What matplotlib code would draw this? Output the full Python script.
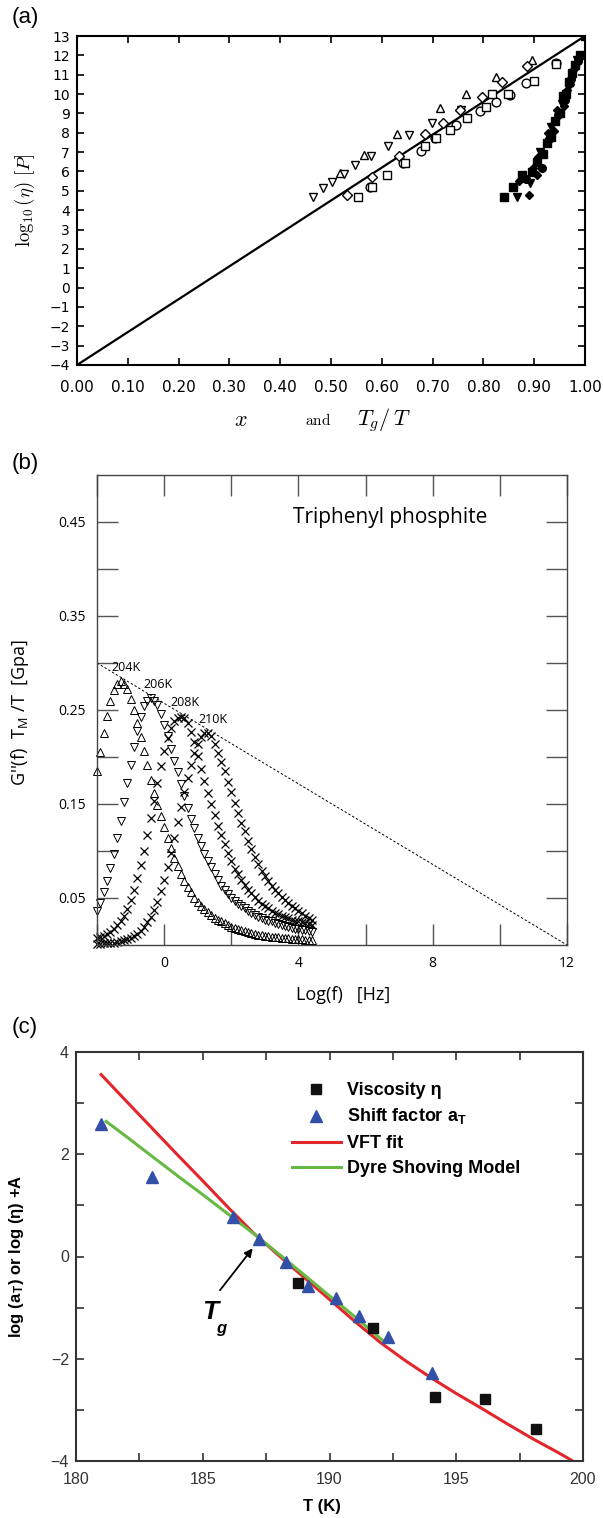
import matplotlib
matplotlib.use("Agg")
import matplotlib.pyplot as plt
from matplotlib.lines import Line2D
from matplotlib.ticker import MultipleLocator, FormatStrFormatter

W, H = 603, 1518
plt.rcParams["mathtext.fontset"] = "cm"

# ---------------- panel (a): log10(eta) vs x and Tg/T ----------------
fit_x = [0.0, 1.0]
fit_y = [-4.0, 13.0]

a_tri_up_x = [0.518, 0.564, 0.629, 0.715, 0.765, 0.824, 0.896]
a_tri_up_y = [5.9, 6.85, 7.94, 9.3, 10.0, 10.87, 11.76]
a_tri_dn_x = [0.465, 0.484, 0.501, 0.525, 0.547, 0.578, 0.613, 0.654, 0.698, 0.756]
a_tri_dn_y = [4.7, 5.13, 5.47, 5.85, 6.33, 6.8, 7.3, 7.9, 8.49, 9.2]
a_diam_x = [0.531, 0.58, 0.633, 0.685, 0.72, 0.754, 0.797, 0.836, 0.885]
a_diam_y = [4.78, 5.73, 6.8, 7.92, 8.52, 9.18, 9.86, 10.64, 11.45]
a_circ_x = [0.577, 0.642, 0.677, 0.705, 0.747, 0.793, 0.825, 0.852, 0.884, 0.942]
a_circ_y = [5.2, 6.45, 7.07, 7.71, 8.4, 9.12, 9.6, 9.95, 10.56, 11.59]
a_sq_x = [0.554, 0.58, 0.611, 0.646, 0.685, 0.707, 0.734, 0.767, 0.806, 0.816, 0.849, 0.9, 0.942]
a_sq_y = [4.66, 5.2, 5.82, 6.45, 7.31, 7.71, 8.14, 8.75, 9.35, 10.0, 9.98, 10.7, 11.54]

f_sq_x = [0.84, 0.858, 0.875, 0.895, 0.905, 0.918, 0.925, 0.933, 0.94, 0.95,
          0.957, 0.962, 0.969, 0.975, 0.98, 0.99, 1.0]
f_sq_y = [4.66, 5.2, 5.82, 5.95, 6.5, 6.9, 7.45, 7.8, 8.6, 9.0,
          9.9, 10.0, 10.6, 11.1, 11.5, 12.0, 13.0]
f_tri_x = [0.867, 0.892, 0.911, 0.934, 0.954, 0.974, 0.984]
f_tri_y = [4.66, 5.39, 7.0, 8.3, 9.5, 11.0, 11.76]
f_diam_x = [0.87, 0.889, 0.898, 0.905, 0.908, 0.928, 0.938, 0.944, 0.958, 0.964, 0.97, 0.978]
f_diam_y = [5.5, 4.78, 6.2, 5.82, 6.76, 7.97, 8.1, 9.18, 9.4, 10.2, 10.5, 11.3]
f_circ_x = [0.884, 0.915, 0.93, 0.947, 0.96, 0.972, 0.986]
f_circ_y = [5.6, 6.2, 7.7, 8.9, 9.7, 10.8, 11.7]

# ---------------- panel (b): G''(f) TM/T vs log f ----------------
log_f = [-2.0, -1.9, -1.8, -1.7, -1.6, -1.5, -1.4, -1.3, -1.2, -1.1,
         -1.0, -0.9, -0.8, -0.7, -0.6, -0.5, -0.4, -0.3, -0.2, -0.1,
         0.0, 0.1, 0.2, 0.3, 0.4, 0.5, 0.6, 0.7, 0.8, 0.9,
         1.0, 1.1, 1.2, 1.3, 1.4, 1.5, 1.6, 1.7, 1.8, 1.9,
         2.0, 2.1, 2.2, 2.3, 2.4, 2.5, 2.6, 2.7, 2.8, 2.9,
         3.0, 3.1, 3.2, 3.3, 3.4, 3.5, 3.6, 3.7, 3.8, 3.9,
         4.0, 4.1, 4.2, 4.3, 4.4]
g_204 = [0.185, 0.205, 0.225, 0.244, 0.260, 0.271, 0.278, 0.281, 0.278, 0.272,
         0.262, 0.250, 0.236, 0.221, 0.206, 0.191, 0.176, 0.162, 0.149, 0.137,
         0.125, 0.114, 0.103, 0.093, 0.084, 0.076, 0.068, 0.062, 0.056, 0.050,
         0.046, 0.042, 0.038, 0.035, 0.032, 0.029, 0.027, 0.025, 0.023, 0.021,
         0.019, 0.018, 0.017, 0.016, 0.015, 0.014, 0.013, 0.012, 0.011, 0.0105,
         0.010, 0.0095, 0.009, 0.0085, 0.008, 0.0077, 0.0074, 0.0071, 0.0068, 0.0065,
         0.0062, 0.006, 0.0058, 0.0056, 0.0054]
g_206 = [0.036, 0.045, 0.056, 0.068, 0.082, 0.097, 0.114, 0.132, 0.152, 0.172,
         0.192, 0.211, 0.228, 0.243, 0.254, 0.260, 0.263, 0.260, 0.255, 0.246,
         0.234, 0.222, 0.208, 0.196, 0.184, 0.171, 0.158, 0.146, 0.134, 0.124,
         0.114, 0.105, 0.097, 0.089, 0.083, 0.076, 0.069, 0.063, 0.058, 0.054,
         0.050, 0.047, 0.044, 0.041, 0.039, 0.036, 0.034, 0.032, 0.030, 0.029,
         0.027, 0.026, 0.025, 0.023, 0.022, 0.021, 0.020, 0.019, 0.018, 0.0175,
         0.017, 0.016, 0.0155, 0.015, 0.014]
g_208 = [0.007, 0.008, 0.010, 0.012, 0.014, 0.017, 0.021, 0.025, 0.031, 0.038,
         0.048, 0.059, 0.071, 0.085, 0.100, 0.117, 0.135, 0.153, 0.172, 0.190,
         0.206, 0.220, 0.231, 0.238, 0.242, 0.243, 0.241, 0.236, 0.227, 0.216,
         0.201, 0.187, 0.174, 0.162, 0.150, 0.138, 0.127, 0.117, 0.107, 0.098,
         0.089, 0.081, 0.075, 0.069, 0.064, 0.059, 0.055, 0.051, 0.047, 0.044,
         0.041, 0.039, 0.036, 0.034, 0.033, 0.031, 0.030, 0.029, 0.027, 0.026,
         0.025, 0.024, 0.023, 0.022, 0.021]
g_210 = [0.0012, 0.0014, 0.0016, 0.0019, 0.0022, 0.0026, 0.0032, 0.0039, 0.0048, 0.006,
         0.0075, 0.0095, 0.012, 0.015, 0.019, 0.024, 0.030, 0.037, 0.046, 0.057,
         0.069, 0.083, 0.098, 0.114, 0.131, 0.147, 0.163, 0.178, 0.192, 0.204,
         0.214, 0.221, 0.225, 0.226, 0.222, 0.214, 0.204, 0.195, 0.185, 0.173,
         0.163, 0.151, 0.140, 0.130, 0.121, 0.111, 0.102, 0.094, 0.086, 0.079,
         0.073, 0.068, 0.063, 0.059, 0.055, 0.051, 0.048, 0.045, 0.042, 0.039,
         0.036, 0.034, 0.031, 0.029, 0.027]
guide_x = [-2.0, 12.0]
guide_y = [0.30, 0.0]
temp_labels = ["204K", "206K", "208K", "210K"]
temp_label_x = [-1.14, -0.18, 0.61, 1.45]
temp_label_y = [0.295, 0.277, 0.258, 0.240]

# ---------------- panel (c): log aT / log eta vs T ----------------
visc_T = [188.75, 191.7, 194.15, 196.15, 198.15]
visc_log = [-0.51, -1.39, -2.75, -2.78, -3.38]
shift_T = [180.97, 182.99, 186.2, 187.2, 188.3, 189.16, 190.27, 191.18, 192.29, 194.05]
shift_log = [2.60, 1.55, 0.77, 0.35, -0.10, -0.57, -0.82, -1.17, -1.57, -2.28]
vft_T = [180.95, 182, 183, 184, 185, 186, 187, 188, 189, 190,
         191, 192, 193, 194, 195, 196, 197, 198, 199, 199.6]
vft_log = [3.58, 3.03, 2.51, 1.99, 1.48, 0.96, 0.46, 0.02, -0.41, -0.84,
           -1.27, -1.68, -2.04, -2.37, -2.68, -2.97, -3.27, -3.56, -3.83, -4.0]
dsm_T = [181.14, 182, 183, 184, 185, 186, 187, 188, 189, 190, 191, 192, 192.25]
dsm_log = [2.66, 2.34, 1.96, 1.58, 1.21, 0.83, 0.45, 0.05, -0.36, -0.77, -1.18, -1.60, -1.70]

RED = "#e3262b"
GREEN = "#68b944"
BLUE = "#3350a8"


def box(left, top, right, bottom):
    return [left / W, 1 - bottom / H, (right - left) / W, (bottom - top) / H]


fig = plt.figure(figsize=(W / 100, H / 100), dpi=100)

for lab, yy in [("(a)", 18), ("(b)", 463), ("(c)", 1027)]:
    fig.text(25 / W, 1 - yy / H, lab, ha="center", va="center", fontsize=16,
             family="Liberation Sans")

# ---- (a)
ax = fig.add_axes(box(77, 36, 585, 365))
ax.plot(fit_x, fit_y, color="black", lw=1.6)
op = dict(ls="none", mfc="white", mec="black", mew=1.0, ms=6.3)
ax.plot(a_tri_up_x, a_tri_up_y, marker="^", **op)
ax.plot(a_tri_dn_x, a_tri_dn_y, marker="v", **op)
ax.plot(a_diam_x, a_diam_y, marker="D", **dict(op, ms=5))
ax.plot(a_circ_x, a_circ_y, marker="o", **op)
ax.plot(a_sq_x, a_sq_y, marker="s", **op)
fp = dict(ls="none", color="black", ms=5.5)
ax.plot(f_sq_x, f_sq_y, marker="s", **fp)
ax.plot(f_tri_x, f_tri_y, marker="v", **fp)
ax.plot(f_diam_x, f_diam_y, marker="D", **dict(fp, ms=4.5))
ax.plot(f_circ_x, f_circ_y, marker="o", **fp)
ax.set_xlim(0, 1)
ax.set_ylim(-4, 13)
ax.xaxis.set_major_locator(MultipleLocator(0.1))
ax.xaxis.set_major_formatter(FormatStrFormatter("%.2f"))
ax.yaxis.set_major_locator(MultipleLocator(1))
ax.tick_params(direction="in", top=True, right=True, length=5, width=1.2)
ax.tick_params(axis="x", labelsize=11, pad=11)
ax.tick_params(axis="y", labelsize=10, pad=5)
for s in ax.spines.values():
    s.set_linewidth(1.5)
fig.text(25 / W, 1 - 200 / H, r"$\log_{10}(\eta)\ [P]$", rotation=90,
         ha="center", va="center", fontsize=13.5)
fig.text(241 / W, 1 - 420 / H, r"$x$", ha="center", va="center", fontsize=16)
fig.text(318 / W, 1 - 420 / H, r"$\mathrm{and}$", ha="center", va="center", fontsize=11)
fig.text(384 / W, 1 - 420 / H, r"$T_g/\,T$", ha="center", va="center", fontsize=16)

# ---- (b)
FB = "Open Sans"
bx = fig.add_axes(box(97, 475, 567, 945))
bx.plot(guide_x, guide_y, color="black", lw=0.7, ls=(0, (2.5, 2)))
tri = dict(ls="none", mfc="none", mec="black", mew=0.7, ms=5.2, clip_on=False)
crs = dict(ls="none", color="black", mew=0.9, ms=5.6, clip_on=False)
bx.plot(log_f, g_204, marker="^", **tri)
bx.plot(log_f, g_206, marker="v", **tri)
bx.plot(log_f, g_208, marker="x", **crs)
bx.plot(log_f, g_210, marker="x", **crs)
for t, tx, ty in zip(temp_labels, temp_label_x, temp_label_y):
    bx.text(tx, ty, t, ha="center", va="center", fontsize=9, family=FB)
bx.text(3.84, 0.455, "Triphenyl phosphite", ha="left", va="center", fontsize=15, family=FB)
bx.set_xlim(-2, 12)
bx.set_ylim(0, 0.5)
bx.set_xticks([0, 4, 8, 12])
bx.set_xticks([-2, 2, 6, 10], minor=True)
bx.set_yticks([0.05, 0.15, 0.25, 0.35, 0.45])
bx.set_yticks([0.1, 0.2, 0.3, 0.4], minor=True)
bx.tick_params(which="both", direction="in", top=True, right=True, length=15, width=1.0,
               color="#555555", labelsize=10, pad=8)
for lbl in bx.get_xticklabels() + bx.get_yticklabels():
    lbl.set_family(FB)
for s in bx.spines.values():
    s.set_linewidth(1.0)
    s.set_color("#444444")
fig.text(20 / W, 1 - 712 / H, r"G''(f)  T$_\mathregular{M}$ /T  [Gpa]", rotation=90,
         ha="center", va="center", fontsize=13, family=FB)
fig.text(343 / W, 1 - 995 / H, "Log(f)   [Hz]", ha="center", va="center",
         fontsize=13, family=FB)

# ---- (c)
FC = "Liberation Sans"
cx = fig.add_axes(box(76, 1052, 583, 1461))
cx.plot(vft_T, vft_log, color=RED, lw=2.2, solid_capstyle="butt", zorder=2)
cx.plot(dsm_T, dsm_log, color=GREEN, lw=2.2, solid_capstyle="butt", zorder=3)
cx.plot(visc_T, visc_log, ls="none", marker="s", color="#111111", ms=6.5, zorder=4)
cx.plot(shift_T, shift_log, ls="none", marker="^", color=BLUE, ms=8, zorder=5)
cx.annotate("", xy=(186.97, 0.16), xytext=(185.68, -0.66),
            arrowprops=dict(arrowstyle="-|>", color="black", lw=1.3,
                            mutation_scale=12, shrinkA=0, shrinkB=0))
cx.text(185.3, -1.08, "T", ha="center", va="center", fontsize=19, weight="bold",
        style="italic", family=FC)
cx.text(185.72, -1.40, "g", ha="center", va="center", fontsize=12, weight="bold",
        style="italic", family=FC)
cx.set_xlim(180, 200)
cx.set_ylim(-4, 4)
cx.xaxis.set_major_locator(MultipleLocator(5))
cx.xaxis.set_minor_locator(MultipleLocator(2.5))
cx.yaxis.set_major_locator(MultipleLocator(2))
cx.yaxis.set_minor_locator(MultipleLocator(1))
cx.tick_params(which="both", direction="in", top=True, right=True, length=6, width=1.2,
               color="#333333", labelsize=11.5, labelcolor="#333333")
cx.tick_params(axis="x", pad=8)
cx.tick_params(axis="y", pad=5)
for lbl in cx.get_xticklabels() + cx.get_yticklabels():
    lbl.set_family(FC)
for s in cx.spines.values():
    s.set_linewidth(1.5)
    s.set_color("#333333")
handles = [
    Line2D([], [], ls="none", marker="s", color="#111111", ms=7),
    Line2D([], [], ls="none", marker="^", color=BLUE, ms=9),
    Line2D([], [], color=RED, lw=2.2),
    Line2D([], [], color=GREEN, lw=2.2),
]
labels = ["Viscosity η", r"Shift factor a$_\mathregular{T}$", "VFT fit", "Dyre Shoving Model"]
cx.legend(handles, labels, loc="upper left", bbox_to_anchor=(292 / W, 1 - 1082 / H),
          bbox_transform=fig.transFigure, frameon=False, borderpad=0, borderaxespad=0,
          handlelength=2.7, handletextpad=0.35, labelspacing=0.45,
          prop=dict(family=FC, weight="bold", size=13))
fig.text(322 / W, 1 - 1507 / H, "T (K)", ha="center", va="center", fontsize=12,
         weight="bold", family=FC)
fig.text(17 / W, 1 - 1256 / H, r"log (a$_\mathregular{T}$) or log (η) +A", rotation=90,
         ha="center", va="center", fontsize=12, weight="bold", family=FC)

fig.savefig("out.png", dpi=100)
